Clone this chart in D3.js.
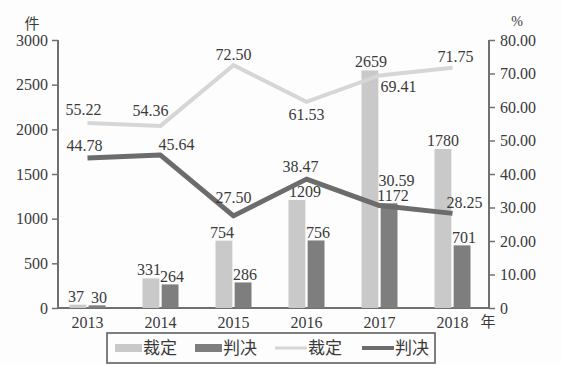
<!DOCTYPE html>
<html>
<head>
<meta charset="utf-8">
<script src="https://cdn.jsdelivr.net/npm/d3@7"></script>
<style>
  body { margin: 0; background: #fdfdfd; }
  text { font-family: "Liberation Serif", "Noto Sans CJK SC", serif; fill: #3a3a3a; }
</style>
</head>
<body>
<svg id="chart" width="561" height="365"></svg>
<script>
const years = ["2013", "2014", "2015", "2016", "2017", "2018"];
const caidingCount = [37, 331, 754, 1209, 2659, 1780];
const panjueCount = [30, 264, 286, 756, 1172, 701];
const caidingRate = [55.22, 54.36, 72.50, 61.53, 69.41, 71.75];
const panjueRate = [44.78, 45.64, 27.50, 38.47, 30.59, 28.25];
const leftTicks = [0, 500, 1000, 1500, 2000, 2500, 3000];
const rightTicks = [0, 10, 20, 30, 40, 50, 60, 70, 80];
const legendNames = ["裁定", "判决", "裁定", "判决"];

const lightBar = "#c9c9c9", darkBar = "#7e7e7e";
const lightLine = "#d6d6d6", darkLine = "#6c6c6c";
const axisColor = "#707070";

const svg = d3.select("#chart");
const plotL = 58, plotR = 489, plotT = 40, plotB = 308;

const x = d3.scaleBand().domain(years).range([51, 489]);
const sub = d3.scaleBand().domain(["c", "p"]).range([-18, 18]).paddingInner(0.12);
const yL = d3.scaleLinear().domain([0, 3000]).range([plotB, plotT]);
const yR = d3.scaleLinear().domain([0, 80]).range([plotB, plotT]);
const cx = d => x(d) + x.bandwidth() / 2;

// axes
const axL = svg.append("g").attr("transform", `translate(${plotL},0)`)
	.call(d3.axisLeft(yL).tickValues(leftTicks).tickSize(6).tickPadding(4).tickFormat(d3.format("d")));
const axR = svg.append("g").attr("transform", `translate(${plotR},0)`)
	.call(d3.axisRight(yR).tickValues(rightTicks).tickSize(6).tickPadding(5)
		.tickFormat(d => d === 0 ? "0" : d3.format(".2f")(d)));
[axL, axR].forEach(a => {
	a.select(".domain").remove();
	a.selectAll(".tick line").attr("stroke", axisColor).attr("stroke-width", 1.5);
	a.selectAll(".tick text").style("font-size", "16px").attr("fill", "#3a3a3a");
});
svg.append("line").attr("x1", plotL).attr("x2", plotL).attr("y1", plotT).attr("y2", plotB)
	.attr("stroke", axisColor).attr("stroke-width", 2);
svg.append("line").attr("x1", plotR).attr("x2", plotR).attr("y1", plotT).attr("y2", plotB)
	.attr("stroke", axisColor).attr("stroke-width", 2);
svg.append("line").attr("x1", plotL).attr("x2", plotR).attr("y1", plotB).attr("y2", plotB)
	.attr("stroke", axisColor).attr("stroke-width", 2);

svg.append("g").selectAll("text").data(years).enter().append("text")
	.attr("x", d => cx(d)).attr("y", 328).attr("text-anchor", "middle")
	.style("font-size", "16px").text(d => d);

svg.append("text").attr("x", 32).attr("y", 29).attr("text-anchor", "middle")
	.style("font-size", "15px").style("font-family", "Noto Sans CJK SC").attr("fill", "#555").text("件");
svg.append("text").attr("x", 517).attr("y", 26).attr("text-anchor", "middle")
	.style("font-size", "14px").attr("fill", "#555").text("%");
svg.append("text").attr("x", 488).attr("y", 327).attr("text-anchor", "middle")
	.style("font-size", "15px").style("font-family", "Noto Sans CJK SC").attr("fill", "#555").text("年");

// bars
const bars = svg.append("g");
bars.selectAll(".barC").data(years).enter().append("rect")
	.attr("x", d => cx(d) + sub("c")).attr("width", sub.bandwidth())
	.attr("y", (d, i) => yL(caidingCount[i])).attr("height", (d, i) => plotB - yL(caidingCount[i]))
	.attr("fill", lightBar);
bars.selectAll(".barP").data(years).enter().append("rect")
	.attr("x", d => cx(d) + sub("p")).attr("width", sub.bandwidth())
	.attr("y", (d, i) => yL(panjueCount[i])).attr("height", (d, i) => plotB - yL(panjueCount[i]))
	.attr("fill", darkBar);

// small nudges so labels clear the lines, as in the original
const dxC = [-2, -2, -2, 8, 1, 0];
const dxP = [2, 2, 2, 2, 4, 2];
bars.selectAll(".lblC").data(years).enter().append("text")
	.attr("x", (d, i) => cx(d) + sub("c") + sub.bandwidth() / 2 + dxC[i])
	.attr("y", (d, i) => yL(caidingCount[i]) - 3)
	.attr("text-anchor", "middle").style("font-size", "16px").text((d, i) => caidingCount[i]);
bars.selectAll(".lblP").data(years).enter().append("text")
	.attr("x", (d, i) => cx(d) + sub("p") + sub.bandwidth() / 2 + dxP[i])
	.attr("y", (d, i) => yL(panjueCount[i]) - 2)
	.attr("text-anchor", "middle").style("font-size", "16px").text((d, i) => panjueCount[i]);

// lines
const line = d3.line().x(d => cx(d.year)).y(d => yR(d.v));
svg.append("path").datum(years.map((y, i) => ({ year: y, v: caidingRate[i] })))
	.attr("d", line).attr("fill", "none").attr("stroke", lightLine).attr("stroke-width", 4);
svg.append("path").datum(years.map((y, i) => ({ year: y, v: panjueRate[i] })))
	.attr("d", line).attr("fill", "none").attr("stroke", darkLine).attr("stroke-width", 5)
	.attr("stroke-linejoin", "round");

const offC = [[-4, -8], [-10, -10], [0, -5], [0, 18], [19, 17], [3, -6]];
const offP = [[-3, -7], [16, -5], [0, -13], [-6, -7], [17, -20], [12, -5]];
svg.append("g").selectAll("text").data(years).enter().append("text")
	.attr("x", (d, i) => cx(d) + offC[i][0]).attr("y", (d, i) => yR(caidingRate[i]) + offC[i][1])
	.attr("text-anchor", "middle").style("font-size", "16px").text((d, i) => caidingRate[i].toFixed(2));
svg.append("g").selectAll("text").data(years).enter().append("text")
	.attr("x", (d, i) => cx(d) + offP[i][0]).attr("y", (d, i) => yR(panjueRate[i]) + offP[i][1])
	.attr("text-anchor", "middle").style("font-size", "16px").text((d, i) => panjueRate[i].toFixed(2));

// legend
const legend = svg.append("g");
legend.append("rect").attr("x", 107).attr("y", 333).attr("width", 328).attr("height", 30)
	.attr("fill", "none").attr("stroke", "#555").attr("stroke-width", 1.5);
const legX = [115, 195, 275, 362];
const legendSwatch = [
	{ type: "rect", color: lightBar }, { type: "rect", color: darkBar },
	{ type: "line", color: lightLine }, { type: "line", color: darkLine }
];
legendNames.forEach((name, i) => {
	const s = legendSwatch[i];
	if (s.type === "rect") {
		legend.append("rect").attr("x", legX[i]).attr("y", 344).attr("width", 27).attr("height", 8).attr("fill", s.color);
	} else {
		legend.append("line").attr("x1", legX[i]).attr("x2", legX[i] + 32).attr("y1", 348).attr("y2", 348)
			.attr("stroke", s.color).attr("stroke-width", i === 3 ? 4 : 3);
	}
	legend.append("text").attr("x", legX[i] + (s.type === "rect" ? 28 : 33)).attr("y", 354)
		.style("font-size", "17px").style("font-family", "Noto Sans CJK SC").attr("fill", "#444").text(name);
});
</script>
</body>
</html>
